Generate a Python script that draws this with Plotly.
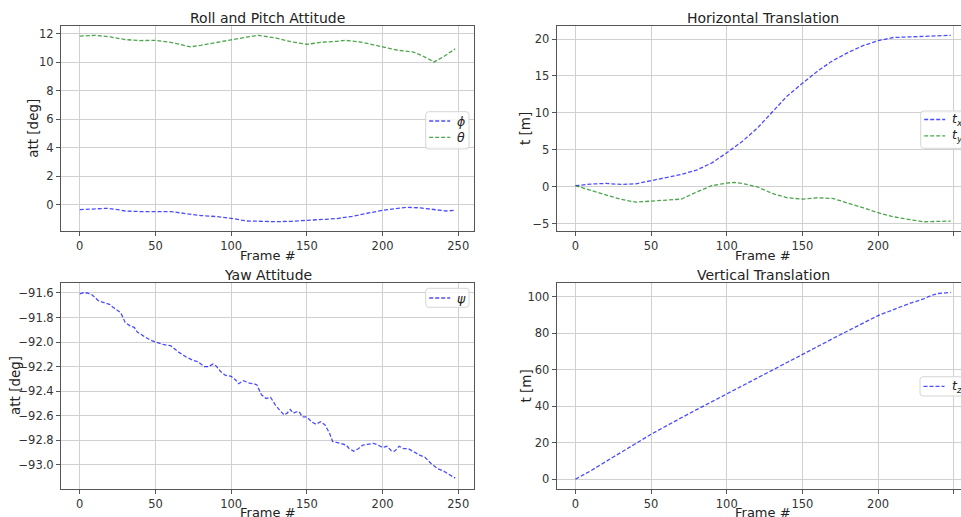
import plotly.graph_objects as go

# ---------------- data ----------------
frames_phi = [0, 10, 18, 25, 30, 40, 50, 60, 70, 80, 90, 100, 110, 120, 130, 140,
              150, 160, 170, 180, 190, 200, 210, 216, 225, 235, 242, 248]
phi = [-0.35, -0.28, -0.26, -0.35, -0.45, -0.49, -0.49, -0.49, -0.63, -0.77, -0.84,
       -0.96, -1.15, -1.20, -1.20, -1.17, -1.12, -1.03, -0.98, -0.82, -0.59, -0.40,
       -0.26, -0.19, -0.23, -0.35, -0.45, -0.40]

frames_theta = [0, 10, 20, 30, 40, 50, 60, 70, 73, 80, 90, 100, 110, 118, 130, 140,
                150, 160, 170, 175, 185, 190, 200, 210, 220, 226, 234, 240, 248]
theta = [11.84, 11.90, 11.79, 11.60, 11.53, 11.55, 11.41, 11.13, 11.09, 11.20, 11.37,
         11.58, 11.77, 11.90, 11.70, 11.44, 11.27, 11.41, 11.48, 11.55, 11.44, 11.34,
         11.09, 10.85, 10.73, 10.48, 10.03, 10.38, 10.95]

frames_txy = [0, 10, 20, 30, 40, 50, 60, 70, 80, 90, 100, 105, 110, 120, 130, 140,
              150, 160, 170, 180, 190, 200, 210, 220, 230, 240, 248]
t_x = [0.14, 0.36, 0.45, 0.32, 0.40, 0.81, 1.22, 1.67, 2.26, 3.20, 4.60, 5.30, 6.10,
       7.90, 10.15, 12.30, 14.00, 15.66, 17.06, 18.15, 19.10, 19.77, 20.20, 20.27,
       20.30, 20.36, 20.50]
t_y = [0.14, -0.45, -1.13, -1.71, -2.08, -1.94, -1.85, -1.67, -0.72, 0.14, 0.50, 0.59,
       0.45, 0.00, -0.90, -1.49, -1.67, -1.49, -1.58, -2.17, -2.84, -3.52, -4.06,
       -4.42, -4.74, -4.69, -4.65]

frames_psi = [0, 2, 5, 8, 10, 12, 14, 17, 20, 22, 25, 27, 30, 33, 36, 38, 42, 46, 50,
              55, 60, 65, 70, 75, 78, 82, 85, 88, 90, 93, 96, 100, 103, 105, 108, 112,
              115, 117, 120, 123, 126, 129, 132, 135, 137, 139, 141, 143, 145, 147,
              150, 153, 156, 159, 162, 165, 167, 170, 173, 176, 178, 181, 184, 187,
              190, 194, 197, 200, 203, 206, 208, 211, 214, 217, 220, 224, 228, 232,
              236, 240, 244, 248]
psi = [-91.608, -91.600, -91.600, -91.614, -91.635, -91.660, -91.670, -91.680, -91.695,
       -91.717, -91.744, -91.760, -91.840, -91.866, -91.880, -91.918, -91.950, -91.980,
       -92.000, -92.020, -92.030, -92.080, -92.120, -92.150, -92.160, -92.200, -92.200,
       -92.180, -92.195, -92.240, -92.270, -92.280, -92.310, -92.340, -92.315, -92.335,
       -92.340, -92.350, -92.430, -92.460, -92.450, -92.510, -92.555, -92.595, -92.580,
       -92.550, -92.580, -92.570, -92.570, -92.610, -92.610, -92.650, -92.670, -92.650,
       -92.676, -92.744, -92.810, -92.820, -92.830, -92.840, -92.870, -92.890, -92.870,
       -92.840, -92.835, -92.826, -92.840, -92.860, -92.850, -92.890, -92.890, -92.850,
       -92.870, -92.870, -92.890, -92.920, -92.940, -92.990, -93.030, -93.050, -93.080,
       -93.110]

frames_tz = [0, 5, 10, 25, 50, 75, 100, 125, 150, 175, 200, 210, 220, 230,
             235, 240, 245, 248]
t_z = [0.1, 2.2, 4.6, 12.2, 24.7, 36.0, 46.8, 58.0, 68.6, 79.3, 89.8,
       93.2, 96.2, 98.9, 100.8, 101.9, 102.4, 102.5]

x_ticks = [0, 50, 100, 150, 200, 250]

# ---------------- styling ----------------
W, H = 961, 517
FONT = "DejaVu Sans"
BLUE = "rgba(0,0,255,0.7)"
GREEN = "rgba(0,128,0,0.7)"
DASH = "4px,2px"
LW = 1.3
TXT = "#222222"


def px_x(p):
    return p / W


def px_y(p):
    return 1 - p / H


fig = go.Figure()


def line(x, y, name, color, xa, ya):
    fig.add_trace(go.Scatter(
        x=x, y=y, mode="lines", name=name,
        line=dict(color=color, width=LW, dash=DASH),
        xaxis=xa, yaxis=ya, showlegend=False))


line(frames_phi, phi, "ϕ", BLUE, "x", "y")
line(frames_theta, theta, "θ", GREEN, "x", "y")
line(frames_txy, t_x, "t_x", BLUE, "x2", "y2")
line(frames_txy, t_y, "t_y", GREEN, "x2", "y2")
line(frames_psi, psi, "ψ", BLUE, "x3", "y3")
line(frames_tz, t_z, "t_z", BLUE, "x4", "y4")

axis_common = dict(
    showgrid=True, gridcolor="#d0d0d0", gridwidth=1, zeroline=False,
    showline=True, linecolor="#555555", linewidth=1,
    ticks="outside", ticklen=4, tickcolor="#555555",
    tickfont=dict(family=FONT, size=11.5, color="#333333"),
)

L0, L1 = 61, 474
R0, R1 = 556.7, 969.7
T0, T1 = 26, 231
B0, B1 = 283.3, 488.7

left_dom = [px_x(L0), px_x(L1)]
right_dom = [px_x(R0), 1.0]
top_dom = [px_y(T1), px_y(T0)]
bot_dom = [px_y(B1), px_y(B0)]

fig.update_layout(
    xaxis=dict(domain=left_dom, anchor="y", range=[-12.4, 260.4], tickvals=x_ticks,
               mirror=True, **axis_common),
    yaxis=dict(domain=top_dom, anchor="x", range=[-1.855, 12.555], dtick=2, tick0=0,
               mirror=True, **axis_common),
    xaxis2=dict(domain=right_dom, anchor="y2", range=[-12.4, 254.8], tickvals=x_ticks,
                mirror=True, **axis_common),
    yaxis2=dict(domain=top_dom, anchor="x2", range=[-5.99, 21.76], dtick=5, tick0=0,
                mirror=False, **axis_common),
    xaxis3=dict(domain=left_dom, anchor="y3", range=[-12.4, 260.4], tickvals=x_ticks,
                mirror=True, **axis_common),
    yaxis3=dict(domain=bot_dom, anchor="x3", range=[-93.196, -91.521], dtick=0.2,
                tick0=-92.0, tickformat=".1f", mirror=True, **axis_common),
    xaxis4=dict(domain=right_dom, anchor="y4", range=[-12.4, 254.8], tickvals=x_ticks,
                mirror=True, **axis_common),
    yaxis4=dict(domain=bot_dom, anchor="x4", range=[-5.16, 107.5], dtick=20, tick0=0,
                mirror=False, **axis_common),
)


def ann(text, x, y, size, angle=0, xanchor="center", yanchor="middle", color=TXT, pad=1):
    fig.add_annotation(text=text, x=px_x(x), y=px_y(y), xref="paper", yref="paper",
                       xanchor=xanchor, yanchor=yanchor, showarrow=False, borderpad=pad,
                       textangle=angle, font=dict(family=FONT, size=size, color=color))


# subplot titles
lc = (L0 + L1) / 2
rc = (R0 + R1) / 2
ann("Roll and Pitch Attitude", lc, 18.0, 14)
ann("Horizontal Translation", rc, 18.0, 14)
ann("Yaw Attitude", lc, 275.0, 14)
ann("Vertical Translation", rc, 275.0, 14)

# axis titles
for cx in (lc, rc):
    ann("Frame #", cx, 255.5, 13)
    ann("Frame #", cx, 512.0, 13, pad=0)
ann("att [deg]", 33.3, (T0 + T1) / 2, 13.5, angle=-90)
ann("t [m]", 525.5, (T0 + T1) / 2, 13.5, angle=-90)
ann("att [deg]", 15.0, (B0 + B1) / 2, 13.5, angle=-90)
ann("t [m]", 525.5, (B0 + B1) / 2, 13.5, angle=-90)


# legends (matplotlib-style boxes)
def rounded_box(x0, y0, x1, y1, r=3):
    X = lambda p: px_x(p)
    Y = lambda p: px_y(p)
    path = (f"M {X(x0 + r)},{Y(y0)} L {X(x1 - r)},{Y(y0)} Q {X(x1)},{Y(y0)} {X(x1)},{Y(y0 + r)} "
            f"L {X(x1)},{Y(y1 - r)} Q {X(x1)},{Y(y1)} {X(x1 - r)},{Y(y1)} "
            f"L {X(x0 + r)},{Y(y1)} Q {X(x0)},{Y(y1)} {X(x0)},{Y(y1 - r)} "
            f"L {X(x0)},{Y(y0 + r)} Q {X(x0)},{Y(y0)} {X(x0 + r)},{Y(y0)} Z")
    fig.add_shape(type="path", path=path, xref="paper", yref="paper",
                  fillcolor="rgba(255,255,255,0.8)", line=dict(color="#d6d6d6", width=1),
                  layer="above")


def legend(x0, y0, y1, entries, width=43.3):
    rounded_box(x0, y0, x0 + width, y1)
    for label, color, ly in entries:
        fig.add_shape(type="line", xref="paper", yref="paper",
                      x0=px_x(x0 + 3.5), x1=px_x(x0 + 24.5), y0=px_y(ly), y1=px_y(ly),
                      line=dict(color=color, width=LW, dash=DASH), layer="above")
        ann(label, x0 + 29.5, ly, 12.5, xanchor="left")


legend(425.7, 111.7, 149.0, [("<i>ϕ</i>", BLUE, 121.0), ("<i>θ</i>", GREEN, 137.3)])
legend(920.7, 111.0, 148.3, [("<i>t</i><sub><i>x</i></sub>", BLUE, 119.5),
                              ("<i>t</i><sub><i>y</i></sub>", GREEN, 135.8)])
legend(425.7, 288.3, 307.3, [("<i>ψ</i>", BLUE, 298.0)])
legend(920.0, 376.7, 396.0, [("<i>t</i><sub><i>z</i></sub>", BLUE, 386.3)])

fig.update_layout(
    width=W, height=H,
    margin=dict(l=0, r=0, t=0, b=0, autoexpand=False),
    paper_bgcolor="white", plot_bgcolor="white",
    font=dict(family=FONT),
)

fig.write_html("out.html")
